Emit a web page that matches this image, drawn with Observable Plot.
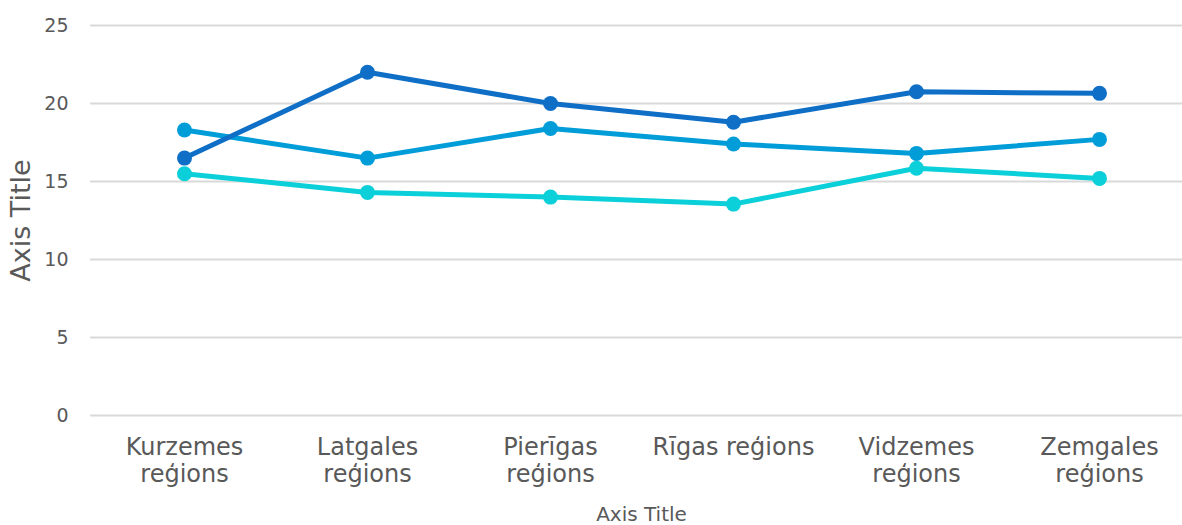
<!DOCTYPE html>
<html>
<head>
<meta charset="utf-8">
<script src="https://cdn.jsdelivr.net/npm/d3@7"></script>
<script src="https://cdn.jsdelivr.net/npm/@observablehq/plot@0.6"></script>
<style>
  html, body { margin: 0; padding: 0; background: #fff; }
  #chart { width: 1182px; height: 525px; }
</style>
</head>
<body>
<div id="chart"></div>
<script>
const categories = ["Kurzemes\nreģions", "Latgales\nreģions", "Pierīgas\nreģions", "Rīgas reģions", "Vidzemes\nreģions", "Zemgales\nreģions"];
const seriesNames = ["Series 1", "Series 2", "Series 3"];
const series1 = [16.5, 22.0, 20.0, 18.8, 20.75, 20.65];
const series2 = [18.3, 16.5, 18.4, 17.4, 16.8, 17.7];
const series3 = [15.5, 14.3, 14.0, 13.55, 15.85, 15.2];
const yTicks = [0, 5, 10, 15, 20, 25];
const colors = ["#0f6fc6", "#009dd9", "#0bd0d9"];

const allSeries = [series1, series2, series3];
const data = [];
allSeries.forEach((vals, si) => vals.forEach((v, i) => data.push({cat: categories[i], value: v, series: seriesNames[si]})));
const order = [2, 1, 0];

const plot = Plot.plot({
  width: 1182,
  height: 525,
  marginLeft: 90,
  marginRight: 0,
  marginTop: 25,
  marginBottom: 110,
  style: {fontFamily: "DejaVu Sans, Verdana, sans-serif", color: "#595959", background: "#fff"},
  x: {type: "point", domain: categories, range: [182, 1101], padding: 0},
  y: {domain: [0, 25], ticks: yTicks},
  color: {domain: seriesNames, range: colors},
  marks: [
    Plot.ruleY(yTicks, {stroke: "#d9d9d9", strokeWidth: 2}),
    Plot.axisY({ticks: yTicks, tickSize: 0, tickPadding: 22, fontSize: 19, label: null}),
    Plot.axisX({tickSize: 0, tickPadding: 21, fontSize: 24, lineHeight: 1.1, label: null}),
    ...order.map(si => Plot.line(data.filter(d => d.series === seriesNames[si]), {x: "cat", y: "value", stroke: colors[si], strokeWidth: 5})),
    ...order.map(si => Plot.dot(data.filter(d => d.series === seriesNames[si]), {x: "cat", y: "value", fill: colors[si], r: 7.5})),
    Plot.text(["Axis Title"], {frameAnchor: "bottom", dy: 105, dx: 5, fontSize: 20, fill: "#595959"}),
    Plot.text(["Axis Title"], {frameAnchor: "left", textAnchor: "middle", dx: -69, rotate: -90, fontSize: 27, fill: "#595959"})
  ]
});
document.getElementById("chart").appendChild(plot);
</script>
</body>
</html>
